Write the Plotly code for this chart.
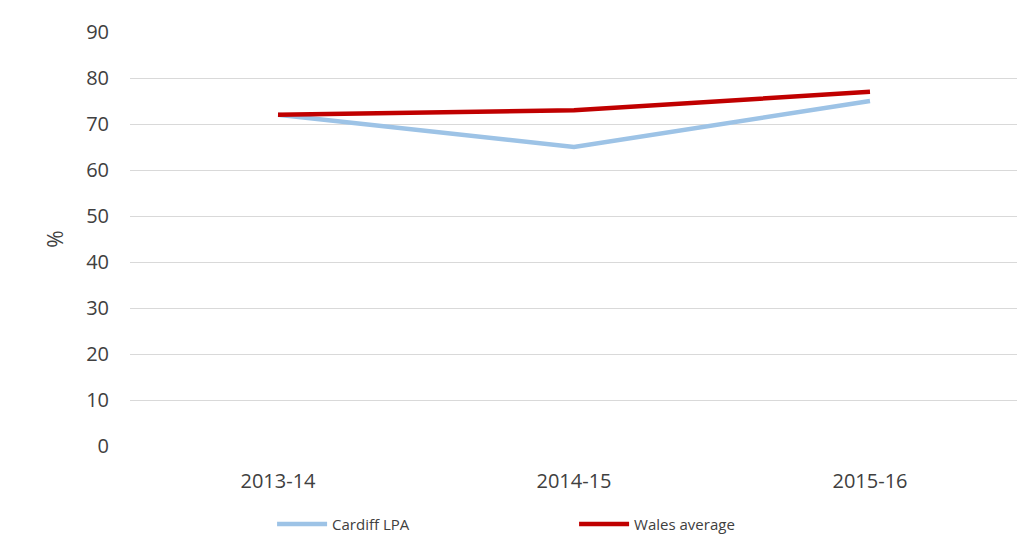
import plotly.graph_objects as go

categories = ["2013-14", "2014-15", "2015-16"]
cardiff = [72, 65, 75]
wales = [72, 73, 77]
y_ticks = [0, 10, 20, 30, 40, 50, 60, 70, 80, 90]

fig = go.Figure()
fig.add_trace(go.Scatter(x=categories, y=cardiff, mode="lines", name="Cardiff LPA",
                         line=dict(color="#9DC3E6", width=4.5)))
fig.add_trace(go.Scatter(x=categories, y=wales, mode="lines", name="Wales average",
                         line=dict(color="#C00000", width=4.5)))

fig.update_layout(
    width=1010, height=533,
    margin=dict(l=122, r=0, t=24, b=92),
    paper_bgcolor="white", plot_bgcolor="white",
    font=dict(family="Open Sans", color="#404040"),
    showlegend=True,
    legend=dict(orientation="h", x=0.16, xanchor="left", y=-0.189, yanchor="middle",
                font=dict(size=15, color="#404040"),
                entrywidth=237, entrywidthmode="pixels", itemwidth=50),
    xaxis=dict(range=[-0.5, 2.5], showgrid=False, zeroline=False, showline=False,
               tickfont=dict(size=20), ticks="", ticklabelstandoff=21),
    yaxis=dict(range=[0, 90], tickvals=y_ticks, showgrid=True, gridcolor="#D9D9D9",
               gridwidth=1, zeroline=False, showline=False, tickfont=dict(size=20),
               ticks="", ticklabelstandoff=20,
               title=dict(text="%", font=dict(size=21), standoff=16)),
)

fig.write_html("out.html")
